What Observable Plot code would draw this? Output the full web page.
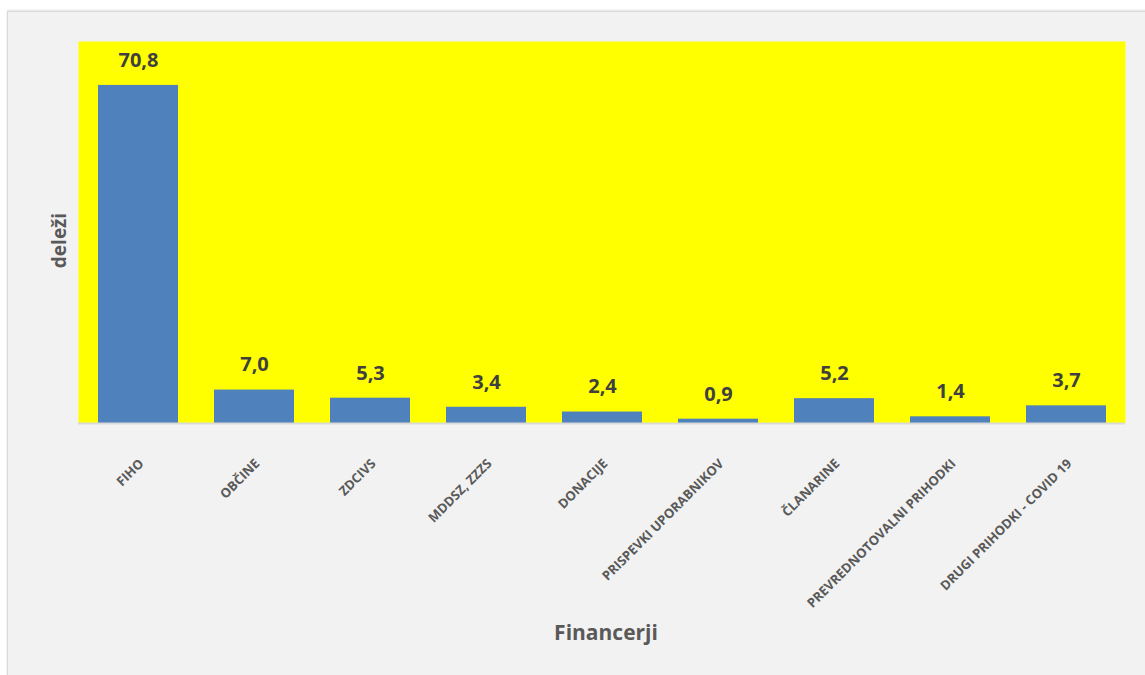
<!DOCTYPE html>
<html>
<head>
<meta charset="utf-8">
<script src="https://cdn.jsdelivr.net/npm/d3@7"></script>
<script src="https://cdn.jsdelivr.net/npm/@observablehq/plot@0.6"></script>
<style>
  html, body { margin: 0; padding: 0; background: #ffffff; }
  #wrap { position: relative; width: 1145px; height: 675px; overflow: hidden; }
  #frame { position: absolute; left: 7px; top: 11px; width: 1145px; height: 670px;
           background: #f2f2f2; border-left: 1px solid #d9d9d9; border-top: 1px solid #d9d9d9;
           box-shadow: 0 -1px 2px #e0e0e0; }
  #chart { position: absolute; left: 0; top: 0; }
</style>
</head>
<body>
<div id="wrap"><div id="frame"></div><div id="chart"></div></div>
<script>
const categories = ["FIHO", "OBČINE", "ZDCIVS", "MDDSZ, ZZZS", "DONACIJE", "PRISPEVKI UPORABNIKOV", "ČLANARINE", "PREVREDNOTOVALNI PRIHODKI", "DRUGI PRIHODKI - COVID 19"];
const values = [70.8, 7.0, 5.3, 3.4, 2.4, 0.9, 5.2, 1.4, 3.7];
const yTitle = "deleži";
const xTitle = "Financerji";

const data = categories.map((c, i) => ({cat: c, val: values[i]}));
const fmt = v => v.toFixed(1).replace(".", ",");
const font = "'Open Sans', sans-serif";

const chart = Plot.plot({
  width: 1145,
  height: 675,
  marginLeft: 78,
  marginRight: 20,
  marginTop: 41,
  marginBottom: 252,
  style: {background: "transparent", fontFamily: font},
  x: {domain: categories, paddingInner: 0.312, paddingOuter: 0.156, label: null},
  y: {domain: [0, 80], axis: null},
  marks: [
    Plot.frame({fill: "#ffff00", stroke: null}),
    Plot.barY(data, {x: "cat", y: "val", fill: "#4f81bd"}),
    Plot.ruleY([0], {stroke: "#d9d9d9", strokeWidth: 2}),
    Plot.text(data, {x: "cat", y: "val", text: d => fmt(d.val), dy: -25, fontSize: 20, fontWeight: "bold", fill: "#404040"}),
    Plot.axisX({tickRotate: -45, tickSize: 0, tickPadding: 38, dx: 3, fontSize: 13, fontWeight: 700, fill: "#595959", label: null}),
    Plot.text([yTitle], {frameAnchor: "left", textAnchor: "middle", lineAnchor: "middle", dx: -19, dy: 8, rotate: -90, fontSize: 19, fontWeight: "bold", fill: "#595959"}),
    Plot.text([xTitle], {frameAnchor: "bottom", textAnchor: "middle", lineAnchor: "middle", dy: 210, dx: 4, fontSize: 21, fontWeight: "bold", fill: "#595959"})
  ]
});
document.getElementById("chart").appendChild(chart);
</script>
</body>
</html>
